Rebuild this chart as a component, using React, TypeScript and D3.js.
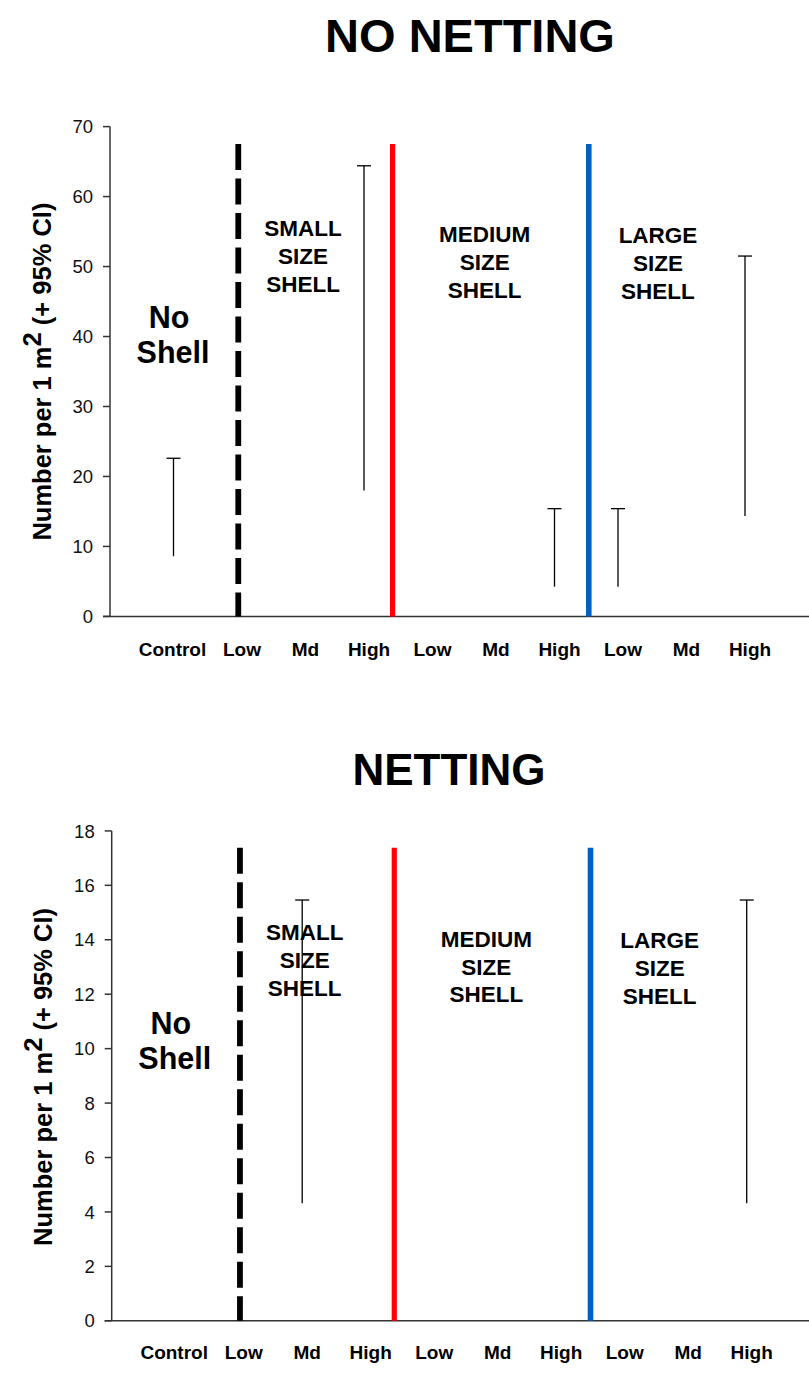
import React from "react";
import * as d3 from "d3";

// ---------- data ----------
const CATEGORIES = ["Control", "Low", "Md", "High", "Low", "Md", "High", "Low", "Md", "High"];

// top panel: NO NETTING (95% CI ranges, null = no bar)
const NO_NET_UPPER: (number | null)[] = [22.6, null, null, 64.4, null, null, 15.4, 15.4, null, 51.5];
const NO_NET_LOWER: (number | null)[] = [8.6, null, null, 18.0, null, null, 4.25, 4.25, null, 14.35];
const NO_NET_TICKS = [0, 10, 20, 30, 40, 50, 60, 70];

// bottom panel: NETTING
const NET_UPPER: (number | null)[] = [null, null, 15.46, null, null, null, null, null, null, 15.46];
const NET_LOWER: (number | null)[] = [null, null, 4.32, null, null, null, null, null, null, 4.32];
const NET_TICKS = [0, 2, 4, 6, 8, 10, 12, 14, 16, 18];

// dividers (category-index positions)
const DIVIDER_POS = [1.02, 3.45, 6.54];
const DIVIDER_KIND = ["dash", "red", "blue"];

// group annotations
const GROUP_LINES = [["No", "Shell"], ["SMALL", "SIZE", "SHELL"], ["MEDIUM", "SIZE", "SHELL"], ["LARGE", "SIZE", "SHELL"]];
const GROUP_POS = [-0.07, 2.04, 4.9, 7.63];
const NO_NET_GROUP_Y = [41.2, 54.3, 53.45, 53.3];
const NET_GROUP_Y = [10.52, 13.98, 13.74, 13.68];

const FONT = "'Liberation Sans', Arial, Helvetica, sans-serif";

type PanelProps = {
  title: string;
  titleX: number;
  titleY: number;
  titleSize: number;
  x0: number;
  x1: number;
  yTop: number;
  yBottom: number;
  yMax: number;
  ticks: number[];
  upper: (number | null)[];
  lower: (number | null)[];
  dividerTop: number;
  groupY: number[];
  catLabelY: number;
  yLabelX: number;
  yLabelY: number;
};

function Panel(p: PanelProps) {
  const idx = CATEGORIES.map((_, i) => i);
  const xp = d3.scalePoint<number>().domain(idx).range([p.x0, p.x1]).padding(1);
  const step = xp.step();
  const xc = (v: number) => (xp(0) as number) + v * step;
  const y = d3.scaleLinear().domain([0, p.yMax]).range([p.yBottom, p.yTop]);
  const dividerStyle: Record<string, { stroke: string; width: number; dash?: string }> = {
    dash: { stroke: "#000", width: 5.8, dash: "26,8.5" },
    red: { stroke: "#ff0000", width: 5.2, dash: undefined },
    blue: { stroke: "#005fc4", width: 5.6, dash: undefined },
  };
  return (
    <g>
      <text x={p.titleX} y={p.titleY} textAnchor="middle" fontFamily={FONT} fontWeight="bold" fontSize={p.titleSize} fill="#000">
        {p.title}
      </text>
      {/* y axis */}
      <line x1={p.x0} x2={p.x0} y1={y(p.yMax)} y2={y(0)} stroke="#333" strokeWidth={1.5} />
      {p.ticks.map((t) => (
        <g key={t}>
          <line x1={p.x0 - 7} x2={p.x0} y1={y(t)} y2={y(t)} stroke="#333" strokeWidth={1.5} />
          <text x={p.x0 - 17} y={y(t)} dy="0.36em" textAnchor="end" fontFamily={FONT} fontSize={18.5} fill="#111">
            {t}
          </text>
        </g>
      ))}
      {/* x axis */}
      <line x1={p.x0 - 7} x2={p.x1 + 1} y1={y(0)} y2={y(0)} stroke="#333" strokeWidth={1.5} />
      {CATEGORIES.map((c, i) => (
        <text key={i} x={(xp(i) as number) + (i === 0 ? -1 : 5)} y={p.catLabelY} textAnchor="middle" fontFamily={FONT} fontWeight="bold" fontSize={19} fill="#000">
          {c}
        </text>
      ))}
      {/* dividers */}
      {DIVIDER_POS.map((d, i) => {
        const s = dividerStyle[DIVIDER_KIND[i]];
        return (
          <line key={i} x1={xc(d)} x2={xc(d)} y1={y(p.dividerTop)} y2={y(0)} stroke={s.stroke} strokeWidth={s.width} strokeDasharray={s.dash} />
        );
      })}
      {/* error bars */}
      {idx.map((i) => {
        const u = p.upper[i];
        const l = p.lower[i];
        if (u == null || l == null) return null;
        const cx = xp(i) as number;
        return (
          <g key={i} stroke="#000" strokeWidth={1.3}>
            <line x1={cx} x2={cx} y1={y(u)} y2={y(l)} />
            <line x1={cx - 7} x2={cx + 7} y1={y(u)} y2={y(u)} />
          </g>
        );
      })}
      {/* group annotations */}
      {GROUP_LINES.map((lines, gi) => {
        const big = gi === 0;
        const fs = big ? 30.5 : 22.5;
        const lh = big ? 34.5 : 27.8;
        return (
          <text key={gi} textAnchor="middle" fontFamily={FONT} fontWeight="bold" fontSize={fs} fill="#000">
            {lines.map((ln, li) => (
              <tspan key={li} x={xc(GROUP_POS[gi]) + (big && li === 1 ? 4 : 0)} y={y(p.groupY[gi]) + li * lh}>
                {ln}
              </tspan>
            ))}
          </text>
        );
      })}
      {/* y label */}
      <text transform={`translate(${p.yLabelX},${p.yLabelY}) rotate(-90)`} textAnchor="middle" fontFamily={FONT} fontWeight="bold" fontSize={25.5} fill="#000">
        Number per 1 m<tspan dy={-10} fontSize={25.5}>2</tspan>
        <tspan dy={10}> (+ 95% CI)</tspan>
      </text>
    </g>
  );
}

export default function App() {
  return (
    <svg width={809} height={1374} style={{ position: "absolute", left: 0, top: 0, background: "#fff" }}>
      <rect width={809} height={1374} fill="#fff" />
      <Panel
        title="NO NETTING"
        titleX={470}
        titleY={51.7}
        titleSize={47}
        x0={110}
        x1={808.5}
        yTop={126.6}
        yBottom={616.4}
        yMax={70}
        ticks={NO_NET_TICKS}
        upper={NO_NET_UPPER}
        lower={NO_NET_LOWER}
        dividerTop={67.5}
        groupY={NO_NET_GROUP_Y}
        catLabelY={656.4}
        yLabelX={51}
        yLabelY={371.6}
      />
      <Panel
        title="NETTING"
        titleX={449}
        titleY={785}
        titleSize={44}
        x0={111.7}
        x1={810.2}
        yTop={830.9}
        yBottom={1320.8}
        yMax={18}
        ticks={NET_TICKS}
        upper={NET_UPPER}
        lower={NET_LOWER}
        dividerTop={17.38}
        groupY={NET_GROUP_Y}
        catLabelY={1359.3}
        yLabelX={52}
        yLabelY={1077}
      />
    </svg>
  );
}
